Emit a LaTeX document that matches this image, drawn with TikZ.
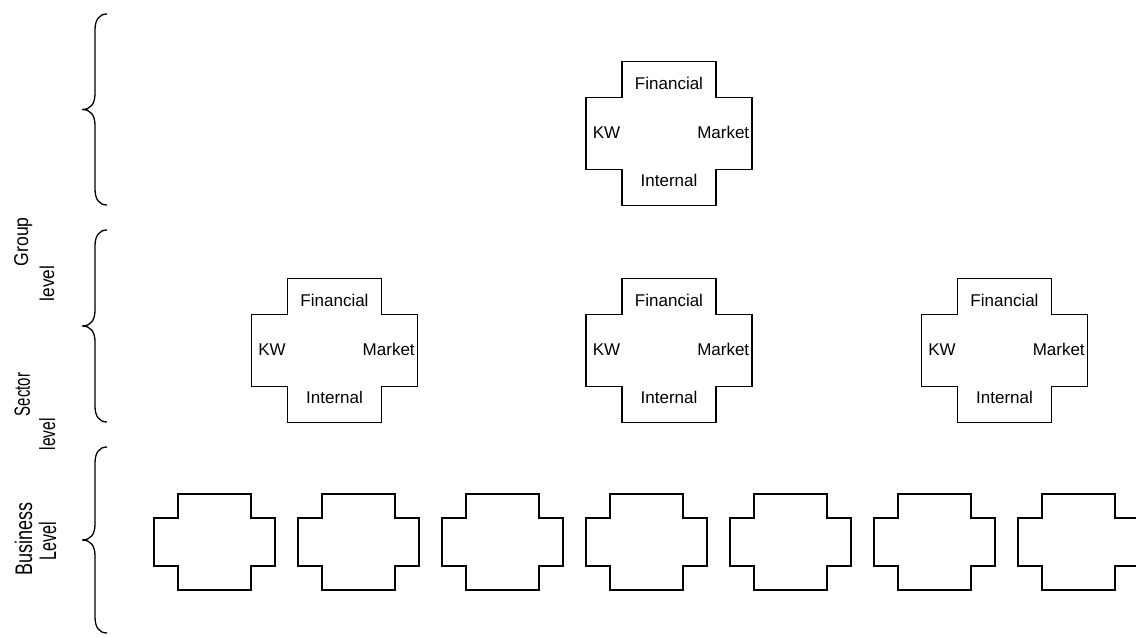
\documentclass[tikz,border=0pt]{standalone}
\usepackage{fontspec}
\setmainfont{Liberation Sans}
\begin{document}
\begin{tikzpicture}[x=1pt,y=-1pt,line width=1.6pt,line join=miter,
  lbl/.style={inner sep=0pt,font=\fontsize{17}{19}\selectfont},
  side/.style={inner sep=0pt,rotate=90,anchor=base west,font=\fontsize{20}{20}\selectfont},
  % cross outline: half width, half height, arm inset in x, arm inset in y
  pics/crossshape/.style args={#1/#2/#3/#4}{code={
    \draw (-#1+#3,-#2) -- (#1-#3,-#2) -- (#1-#3,-#2+#4) -- (#1,-#2+#4)
      -- (#1,#2-#4) -- (#1-#3,#2-#4) -- (#1-#3,#2) -- (-#1+#3,#2)
      -- (-#1+#3,#2-#4) -- (-#1,#2-#4) -- (-#1,-#2+#4) -- (-#1+#3,-#2+#4) -- cycle;
  }},
  pics/bigcross/.style={code={
    \pic {crossshape=83/72/36/36};
    \node[lbl] (-fin) at (0,-50) {Financial};
    \node[lbl] (-int) at (0,47) {Internal};
    \node[lbl,anchor=west] (-kw) at (-77,-1) {KW};
    \node[lbl,anchor=east] (-mkt) at (81,-1) {Market};
  }},
  pics/smallcross/.style={code={
    \pic {crossshape=60.5/48/24/24};
  }}]
\useasboundingbox (0,0) rectangle (1136,637);

% curly brace with its tip pointing left
\newcommand\levelbrace[2]{%
  \draw[line width=1.3pt] (107,#1) .. controls (99,#1) and (95,#1+6) .. (95,#1+16)
    -- (95,{(#1+#2)/2-16}) .. controls (95,{(#1+#2)/2-6}) and (91,{(#1+#2)/2}) .. (82,{(#1+#2)/2})
    .. controls (91,{(#1+#2)/2}) and (95,{(#1+#2)/2+6}) .. (95,{(#1+#2)/2+16})
    -- (95,#2-16) .. controls (95,#2-6) and (99,#2) .. (107,#2);}
\levelbrace{14}{205}
\levelbrace{230}{422}
\levelbrace{447}{633}

% level names, set sideways
\node[side] (group1) at (28,267) {\scalebox{0.88}[1]{Group}};
\node[side] (group2) at (54,302) {\scalebox{0.86}[1]{level}};
\node[side,font=\fontsize{22}{22}\selectfont] (sector1) at (30,417) {\scalebox{0.68}[1]{Sector}};
\node[side,font=\fontsize{22}{22}\selectfont] (sector2) at (55,451) {\scalebox{0.71}[1]{level}};
\node[side,font=\fontsize{24}{24}\selectfont] (business1) at (32,576) {\scalebox{0.75}[1]{Business}};
\node[side,font=\fontsize{24}{24}\selectfont] (business2) at (56,561) {\scalebox{0.67}[1]{Level}};

% group level
\pic (g) at (669,133.5) {bigcross};
% sector level
\pic (s1) at (334.5,350.5) {bigcross};
\pic (s2) at (669,350.5) {bigcross};
\pic (s3) at (1004.5,350.5) {bigcross};
% business level
\foreach \i in {0,...,6}
  \pic (b\i) at (214.5+144*\i,542) {smallcross};
\end{tikzpicture}
\end{document}
